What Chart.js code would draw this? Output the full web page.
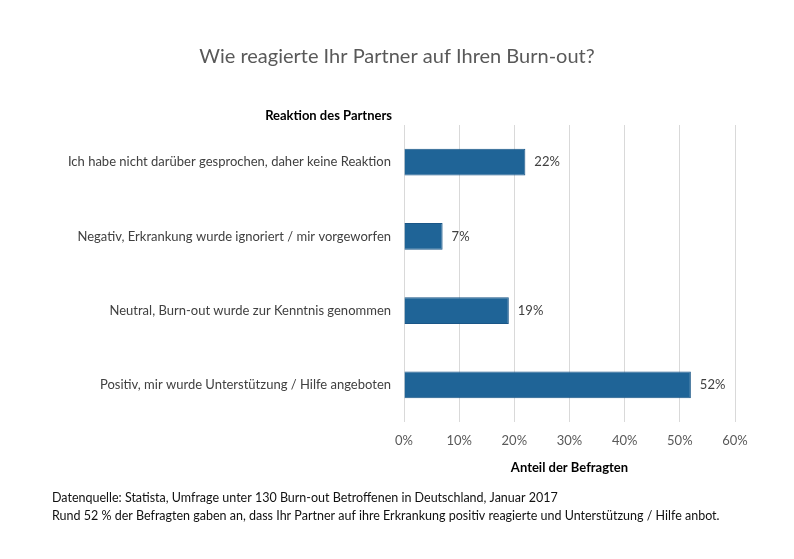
<!DOCTYPE html>
<html>
<head>
<meta charset="utf-8">
<script src="https://cdn.jsdelivr.net/npm/chart.js@4.4.1/dist/chart.umd.min.js"></script>
<style>
  html, body { margin: 0; padding: 0; background: #fff; }
  #wrap { width: 794px; height: 559px; }
</style>
</head>
<body>
<div id="wrap"><canvas id="ourChart" width="794" height="559"></canvas></div>
<script>
const labelsNames = [
    "Ich habe nicht darüber gesprochen, daher keine Reaktion",
    "Negativ, Erkrankung wurde ignoriert / mir vorgeworfen",
    "Neutral, Burn-out wurde zur Kenntnis genommen",
    "Positiv, mir wurde Unterstützung / Hilfe angeboten"
];
const values = [22, 7, 19, 52];
const tickValues = [0, 10, 20, 30, 40, 50, 60];

const chartTitle = "Wie reagierte Ihr Partner auf Ihren Burn-out?";
const yTitle = "Reaktion des Partners";
const xTitle = "Anteil der Befragten";
const footerLines = [
    "Datenquelle: Statista, Umfrage unter 130 Burn-out Betroffenen in Deutschland, Januar 2017",
    "Rund 52 % der Befragten gaben an, dass Ihr Partner auf ihre Erkrankung positiv reagierte und Unterstützung / Hilfe anbot."
];

const fontFam = "Lato, 'Open Sans', sans-serif";

// texts around the plot + value labels
const extras = {
    id: 'extras',
    afterDraw(chart) {
        const ctx = chart.ctx;
        const area = chart.chartArea;
        ctx.save();
        ctx.textBaseline = 'middle';

        ctx.fillStyle = '#595959';
        ctx.font = "20px " + fontFam;
        ctx.textAlign = 'center';
        ctx.fillText(chartTitle, chart.width / 2, 57);

        ctx.fillStyle = '#000';
        ctx.font = "bold 13px " + fontFam;
        ctx.textAlign = 'right';
        ctx.fillText(yTitle, area.left - 12, 116);

        ctx.fillStyle = '#404040';
        ctx.font = "13px " + fontFam;
        ctx.textAlign = 'left';
        const meta = chart.getDatasetMeta(0);
        meta.data.forEach((bar, i) => {
            ctx.fillText(values[i] + "%", bar.x + 9, bar.y);
        });

        ctx.fillStyle = '#111';
        ctx.font = "12.5px " + fontFam;
        footerLines.forEach((t, i) => {
            ctx.fillText(t, 52, 498 + i * 18);
        });
        ctx.restore();
    }
};

new Chart(document.getElementById("ourChart"), {
    type: 'bar',
    data: {
        labels: labelsNames,
        datasets: [
            {
                data: values,
                backgroundColor: '#1f6497',
                borderColor: '#1a5687',
                borderWidth: 1,
                barPercentage: 0.36,
                categoryPercentage: 1
            }
        ]
    },
    options: {
        indexAxis: 'y',
        responsive: false,
        animation: false,
        layout: {
            padding: { top: 125, right: 59, bottom: 77, left: 0 }
        },
        scales: {
            x: {
                min: 0,
                max: 60,
                afterBuildTicks: (scale) => {
                    scale.ticks = tickValues.map(v => ({ value: v }));
                },
                afterFit: (scale) => { scale.height = 60; },
                grid: { color: '#d9d9d9', drawTicks: false, tickLength: 0 },
                border: { display: false },
                ticks: {
                    padding: 11,
                    color: '#595959',
                    font: { family: fontFam, size: 13 },
                    callback: (v) => v + "%"
                },
                title: {
                    display: true,
                    text: xTitle,
                    color: '#000',
                    font: { family: fontFam, size: 13, weight: 'bold' },
                    padding: { top: 0, bottom: 6 }
                }
            },
            y: {
                afterFit: (scale) => { scale.width = 404; },
                grid: { display: false, drawTicks: false },
                border: { display: false },
                ticks: {
                    padding: 13,
                    color: '#404040',
                    font: { family: fontFam, size: 13 }
                }
            }
        },
        plugins: {
            legend: { display: false },
            tooltip: { enabled: false }
        }
    },
    plugins: [extras]
});
</script>
</body>
</html>
